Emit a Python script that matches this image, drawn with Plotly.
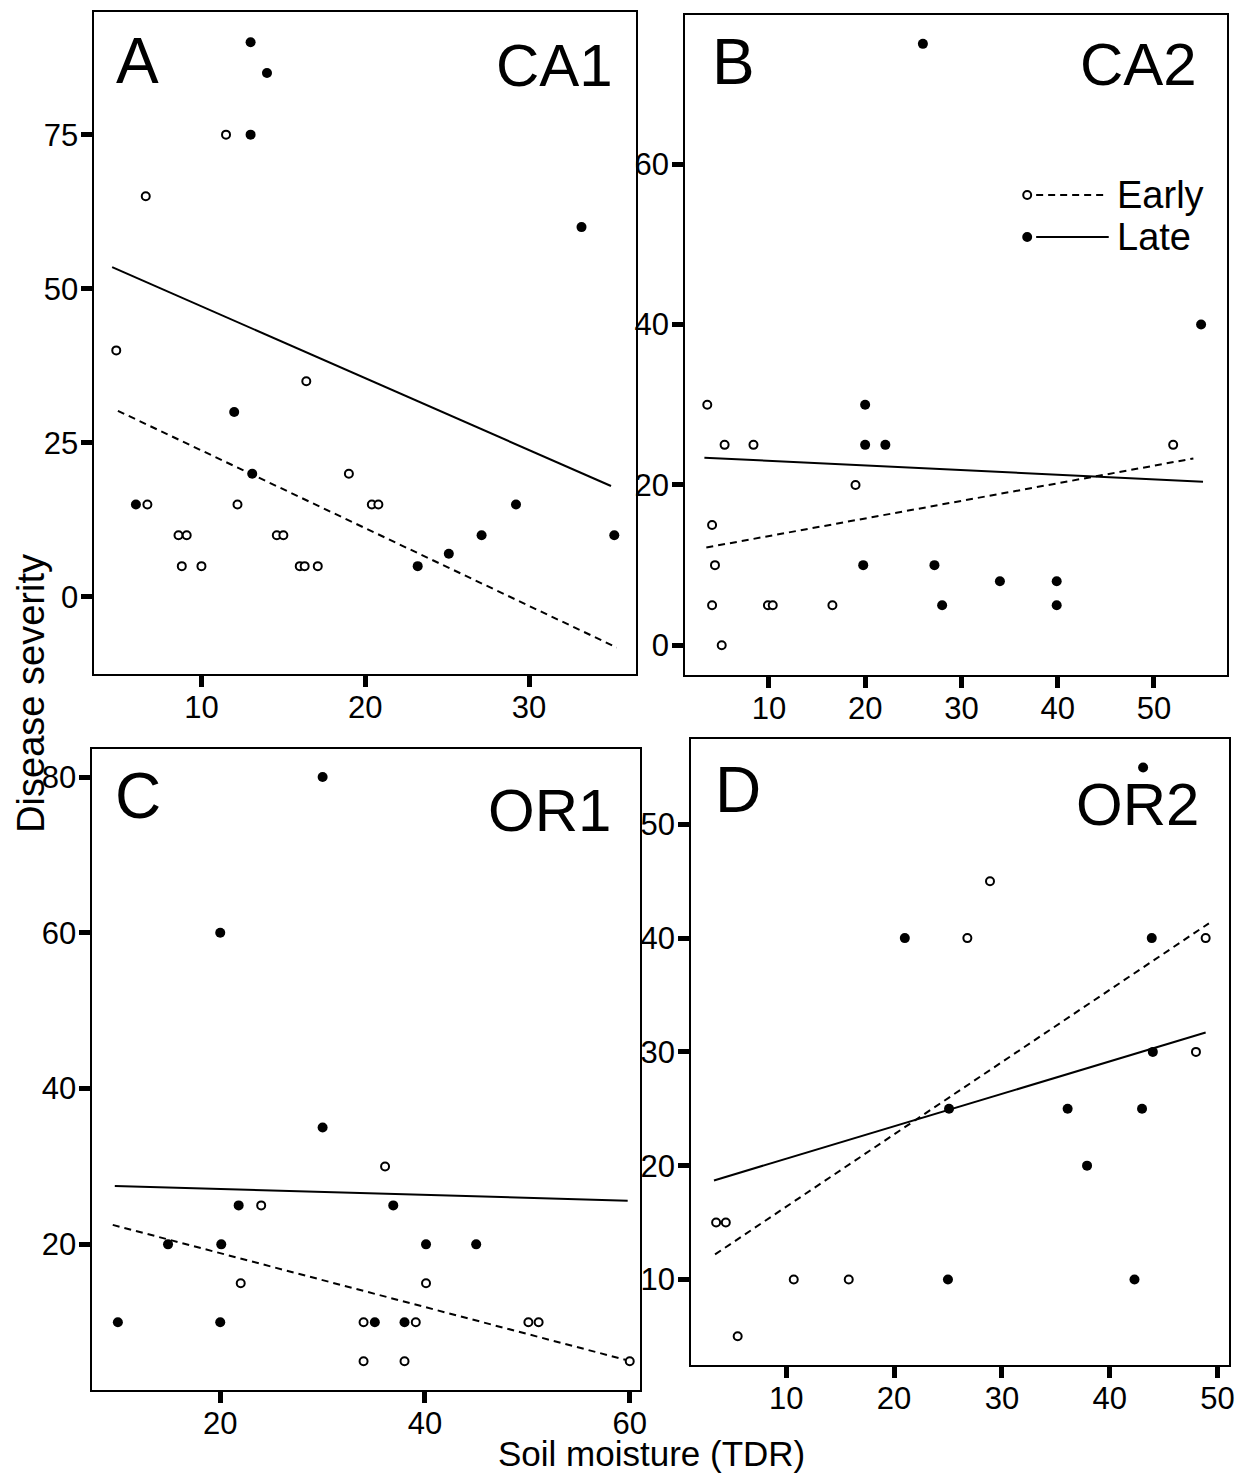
import plotly.graph_objects as go

W, H = 1247, 1475
FONT = "Liberation Sans, Arial, Helvetica, sans-serif"

# ---------------- data ----------------
ca1_early_x = [4.8, 6.6, 6.7, 8.6, 9.1, 8.8, 10.0, 11.5, 12.2, 14.6, 15.0, 16.0, 16.3, 17.1, 16.4, 19.0, 20.4, 20.8]
ca1_early_y = [40, 65, 15, 10, 10, 5, 5, 75, 15, 10, 10, 5, 5, 5, 35, 20, 15, 15]
ca1_late_x = [13.0, 14.0, 13.0, 33.2, 12.0, 13.1, 6.0, 23.2, 25.1, 27.1, 29.2, 35.2]
ca1_late_y = [90, 85, 75, 60, 30, 20, 15, 5, 7, 10, 15, 10]
ca1_fit_early_x = [4.9, 35.35]
ca1_fit_early_y = [30.2, -8.2]
ca1_fit_late_x = [4.55, 35.0]
ca1_fit_late_y = [53.5, 18.0]

ca2_early_x = [3.6, 5.4, 8.4, 19.0, 4.1, 4.4, 4.1, 9.9, 10.4, 16.6, 5.1, 52.0]
ca2_early_y = [30, 25, 25, 20, 15, 10, 5, 5, 5, 5, 0, 25]
ca2_late_x = [26.0, 54.9, 20.0, 20.0, 22.1, 19.8, 27.2, 28.0, 34.0, 39.9, 39.9]
ca2_late_y = [75, 40, 30, 25, 25, 10, 10, 5, 8, 8, 5]
ca2_fit_early_x = [3.5, 54.1]
ca2_fit_early_y = [12.2, 23.3]
ca2_fit_late_x = [3.3, 55.1]
ca2_fit_late_y = [23.4, 20.4]

or1_early_x = [36.1, 24.0, 22.0, 40.1, 34.0, 39.1, 50.1, 51.1, 34.0, 38.0, 60.0]
or1_early_y = [30, 25, 15, 15, 10, 10, 10, 10, 5, 5, 5]
or1_late_x = [30.0, 20.0, 30.0, 21.8, 36.9, 14.9, 20.1, 40.1, 45.0, 10.0, 20.0, 35.1, 38.0]
or1_late_y = [80, 60, 35, 25, 25, 20, 20, 20, 20, 10, 10, 10, 10]
or1_fit_early_x = [9.5, 59.8]
or1_fit_early_y = [22.5, 5.1]
or1_fit_late_x = [9.7, 59.8]
or1_fit_late_y = [27.5, 25.6]

or2_early_x = [3.5, 4.4, 5.5, 10.7, 15.8, 26.8, 28.9, 48.9, 48.0]
or2_early_y = [15, 15, 5, 10, 10, 40, 45, 40, 30]
or2_late_x = [43.1, 21.0, 43.9, 44.0, 25.1, 36.1, 43.0, 37.9, 25.0, 42.3]
or2_late_y = [55, 40, 40, 30, 25, 25, 25, 20, 10, 10]
or2_fit_early_x = [3.4, 49.2]
or2_fit_early_y = [12.2, 41.3]
or2_fit_late_x = [3.3, 48.9]
or2_fit_late_y = [18.7, 31.7]

panel_letters = ["A", "B", "C", "D"]
panel_sites = ["CA1", "CA2", "OR1", "OR2"]
x_ticks = [[10, 20, 30], [10, 20, 30, 40, 50], [20, 40, 60], [10, 20, 30, 40, 50]]
y_ticks = [[0, 25, 50, 75], [0, 20, 40, 60], [20, 40, 60, 80], [10, 20, 30, 40, 50]]
legend_labels = ["Early", "Late"]
x_title = "Soil moisture (TDR)"
y_title = "Disease severity"

# ---------------- layout helpers ----------------
def px(x):
    return x / W

def py(y):
    return 1 - y / H

# panel boxes in pixels: (left, right, top, bottom)
boxes = [(95, 640, 12, 674), (689, 1234, 15, 675), (93, 644, 749, 1390), (695, 1236, 739, 1365)]
x_ranges = [[3.47, 36.55], [1.3, 57.6], [7.52, 61.04], [1.18, 51.07]]
y_ranges = [[-12.5, 94.9], [-3.7, 78.6], [1.3, 83.6], [2.48, 57.5]]

panels = [
    (ca1_early_x, ca1_early_y, ca1_late_x, ca1_late_y, ca1_fit_early_x, ca1_fit_early_y, ca1_fit_late_x, ca1_fit_late_y),
    (ca2_early_x, ca2_early_y, ca2_late_x, ca2_late_y, ca2_fit_early_x, ca2_fit_early_y, ca2_fit_late_x, ca2_fit_late_y),
    (or1_early_x, or1_early_y, or1_late_x, or1_late_y, or1_fit_early_x, or1_fit_early_y, or1_fit_late_x, or1_fit_late_y),
    (or2_early_x, or2_early_y, or2_late_x, or2_late_y, or2_fit_early_x, or2_fit_early_y, or2_fit_late_x, or2_fit_late_y),
]

fig = go.Figure()
DASH = "7px,5px"
for i, (ex, ey, lx, ly, fex, fey, flx, fly) in enumerate(panels):
    sfx = "" if i == 0 else str(i + 1)
    xa, ya = "x" + sfx, "y" + sfx
    fig.add_trace(go.Scatter(x=fex, y=fey, mode="lines", xaxis=xa, yaxis=ya,
                             line=dict(color="black", width=2, dash=DASH), showlegend=False))
    fig.add_trace(go.Scatter(x=flx, y=fly, mode="lines", xaxis=xa, yaxis=ya,
                             line=dict(color="black", width=2), showlegend=False))
    fig.add_trace(go.Scatter(x=ex, y=ey, mode="markers", xaxis=xa, yaxis=ya,
                             marker=dict(symbol="circle", size=8, color="white",
                                         line=dict(color="black", width=2)), showlegend=False))
    fig.add_trace(go.Scatter(x=lx, y=ly, mode="markers", xaxis=xa, yaxis=ya,
                             marker=dict(symbol="circle", size=10, color="black",
                                         line=dict(color="black", width=0)), showlegend=False))

    l, r, t, b = boxes[i]
    axis_common = dict(showline=True, mirror=True, linecolor="black", linewidth=2,
                       ticks="outside", ticklen=11, tickwidth=5, tickcolor="black",
                       showgrid=False, zeroline=False,
                       tickfont=dict(family=FONT, size=31, color="black"))
    xkey = "xaxis" + sfx
    ykey = "yaxis" + sfx
    fig.update_layout(**{
        xkey: dict(domain=[px(l), px(r)], range=x_ranges[i], anchor=ya, ticklabelstandoff=-6,
                   tickvals=x_ticks[i], ticktext=[str(v) for v in x_ticks[i]], **axis_common),
        ykey: dict(domain=[py(b), py(t)], range=y_ranges[i], anchor=xa, ticklabelstandoff=-3,
                   tickvals=y_ticks[i], ticktext=[str(v) for v in y_ticks[i]], **axis_common),
    })

# panel letters and site labels
letter_pos = [(115, 61), (714, 62), (114, 796), (717, 790)]
site_pos = [(618, 66), (1206, 65), (616, 810), (1208, 805)]
ann = []
for i in range(4):
    ann.append(dict(text=panel_letters[i], xref="paper", yref="paper",
                    x=px(letter_pos[i][0]), y=py(letter_pos[i][1]),
                    xanchor="left", yanchor="middle", showarrow=False,
                    font=dict(family=FONT, size=64, color="black")))
    ann.append(dict(text=panel_sites[i], xref="paper", yref="paper",
                    x=px(site_pos[i][0]), y=py(site_pos[i][1]),
                    xanchor="right", yanchor="middle", showarrow=False,
                    font=dict(family=FONT, size=60, color="black")))

# axis titles
ann.append(dict(text=x_title, xref="paper", yref="paper", x=px(655), y=py(1453),
                xanchor="center", yanchor="middle", showarrow=False,
                font=dict(family=FONT, size=35, color="black")))
ann.append(dict(text=y_title, xref="paper", yref="paper", x=px(31), y=py(693),
                xanchor="center", yanchor="middle", showarrow=False, textangle=-90,
                font=dict(family=FONT, size=38, color="black")))

# legend in panel B
shapes = []
leg_rows = [195, 237]
for j, lab in enumerate(legend_labels):
    yy = leg_rows[j]
    ann.append(dict(text=lab, xref="paper", yref="paper", x=px(1121), y=py(yy),
                    xanchor="left", yanchor="middle", showarrow=False,
                    font=dict(family=FONT, size=38, color="black")))
    shapes.append(dict(type="line", xref="paper", yref="paper",
                       x0=px(1042), x1=px(1110 if j == 0 else 1115), y0=py(yy), y1=py(yy),
                       line=dict(color="black", width=2, dash=None if j == 1 else DASH)))
    shapes.append(dict(type="circle", xref="paper", yref="paper",
                       x0=px(1033 - 4), x1=px(1033 + 4), y0=py(yy - 4), y1=py(yy + 4),
                       fillcolor="white" if j == 0 else "black",
                       line=dict(color="black", width=2)))

fig.update_layout(width=W, height=H, autosize=False,
                  margin=dict(l=0, r=0, t=0, b=0),
                  paper_bgcolor="white", plot_bgcolor="white",
                  showlegend=False, annotations=ann, shapes=shapes)

fig.write_html("out.html", config={"displayModeBar": False},
               post_script="document.body.style.margin='0';document.body.style.padding='0';"
                           "document.body.style.overflow='hidden';")
